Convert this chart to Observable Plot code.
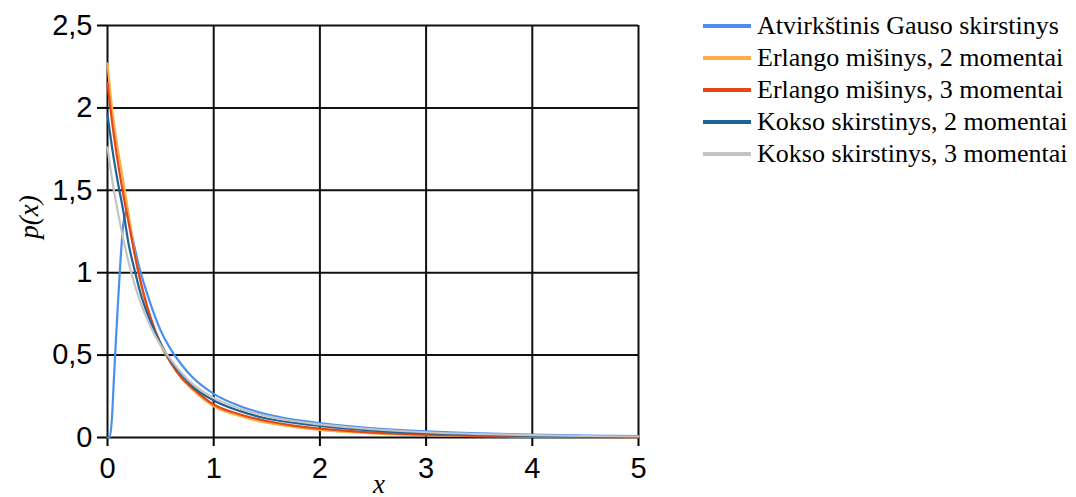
<!DOCTYPE html>
<html>
<head>
<meta charset="utf-8">
<script src="https://cdn.jsdelivr.net/npm/d3@7"></script>
<script src="https://cdn.jsdelivr.net/npm/@observablehq/plot@0.6"></script>
<style>
  html, body { margin: 0; padding: 0; background: #fff; }
  #wrap { position: relative; width: 1076px; height: 497px; overflow: hidden; }
  #chart { position: absolute; left: 0; top: 0; }
  #legend { position: absolute; left: 703px; top: 10px; font-family: "Liberation Serif", "Times New Roman", serif; font-size: 26px; color: #000; }
  .item { display: flex; align-items: center; height: 32px; white-space: nowrap; }
  .swatch { width: 48px; height: 3.5px; margin-right: 6px; }
  .ylab { position: absolute; left: 29px; top: 217px; transform: translate(-50%, -50%) rotate(-90deg); font-family: "Liberation Serif", serif; font-style: italic; font-size: 27px; white-space: nowrap; }
  .xlab { position: absolute; left: 379px; top: 484px; transform: translate(-50%, -50%); font-family: "Liberation Serif", serif; font-style: italic; font-size: 27px; }
</style>
</head>
<body>
<div id="wrap">
  <div id="chart"></div>
  <div id="legend"></div>
  <div class="ylab">p(x)</div>
  <div class="xlab">x</div>
</div>
<script>
// ---- data ----
const seriesNames = [
  "Atvirkštinis Gauso skirstinys",
  "Erlango mišinys, 2 momentai",
  "Erlango mišinys, 3 momentai",
  "Kokso skirstinys, 2 momentai",
  "Kokso skirstinys, 3 momentai"
];
const seriesColors = ["#4a8ff0", "#ffae45", "#e4461a", "#1d6594", "#c4c4c4"];

const xTicks = [0, 1, 2, 3, 4, 5];
const yTicks = [0, 0.5, 1, 1.5, 2, 2.5];

const invGaussX = [0, 0.02, 0.04, 0.06, 0.08, 0.1, 0.12, 0.15, 0.18, 0.2, 0.25, 0.3, 0.35, 0.4, 0.5, 0.6, 0.7, 0.8, 1.0, 1.25, 1.5, 1.75, 2.0, 2.5, 3.0, 3.5, 4.0, 4.5, 5.0];
const invGaussY = [0, 0.0, 0.1, 0.35, 0.6, 0.83, 1.05, 1.3, 1.37, 1.32, 1.17, 1.03, 0.92, 0.82, 0.65, 0.53, 0.44, 0.365, 0.265, 0.19, 0.14, 0.108, 0.087, 0.056, 0.037, 0.025, 0.017, 0.012, 0.008];

const xGrid = [0, 0.05, 0.1, 0.15, 0.2, 0.25, 0.3, 0.4, 0.5, 0.6, 0.7, 0.8, 1.0, 1.25, 1.5, 1.75, 2.0, 2.5, 3.0, 3.5, 4.0, 4.5, 5.0];
const erlang2Y = [2.27, 1.96, 1.74, 1.55, 1.35, 1.14, 0.97, 0.73, 0.56, 0.45, 0.36, 0.29, 0.19, 0.13, 0.09, 0.065, 0.046, 0.025, 0.014, 0.008, 0.005, 0.003, 0.002];
const erlang3Y = [2.15, 1.88, 1.66, 1.47, 1.3, 1.13, 0.98, 0.74, 0.57, 0.45, 0.36, 0.3, 0.2, 0.14, 0.1, 0.072, 0.054, 0.03, 0.017, 0.01, 0.006, 0.004, 0.002];
const cox2Y    = [1.96, 1.73, 1.54, 1.37, 1.17, 1.03, 0.9, 0.71, 0.57, 0.46, 0.38, 0.31, 0.225, 0.16, 0.115, 0.09, 0.07, 0.042, 0.026, 0.016, 0.01, 0.006, 0.004];
const cox3Y    = [1.76, 1.54, 1.36, 1.2, 1.06, 0.94, 0.84, 0.68, 0.56, 0.47, 0.39, 0.325, 0.24, 0.175, 0.13, 0.1, 0.08, 0.05, 0.032, 0.021, 0.014, 0.009, 0.006];

// ---- build table ----
const rows = [];
invGaussX.forEach((x, i) => rows.push({s: seriesNames[0], x, y: invGaussY[i]}));
[erlang2Y, erlang3Y, cox2Y, cox3Y].forEach((ys, k) => {
  xGrid.forEach((x, i) => rows.push({s: seriesNames[k + 1], x, y: ys[i]}));
});

const fmt = d => String(d).replace(".", ",");

const chart = Plot.plot({
  width: 680,
  height: 497,
  marginLeft: 107,
  marginRight: 42,
  marginTop: 25,
  marginBottom: 60,
  style: { fontFamily: "'Liberation Sans', Arial, sans-serif", fontSize: "29px", color: "#000", background: "#fff" },
  x: { domain: [0, 5], label: null },
  y: { domain: [0, 2.5], label: null },
  color: { domain: seriesNames, range: seriesColors },
  marks: [
    Plot.ruleX(xTicks, { stroke: "#111", strokeWidth: 2 }),
    Plot.ruleY(yTicks, { stroke: "#111", strokeWidth: 2 }),
    Plot.axisX({ ticks: xTicks, tickFormat: fmt, tickSize: 9, tickPadding: 11, strokeWidth: 2, fontSize: 29, label: null }),
    Plot.axisY({ ticks: yTicks, tickFormat: fmt, tickSize: 10, tickPadding: 5, strokeWidth: 2, fontSize: 29, label: null }),
    Plot.line(rows, { x: "x", y: "y", z: "s", stroke: "s", strokeWidth: 2.2, curve: "monotone-x" })
  ]
});
document.getElementById("chart").appendChild(chart);

const legend = document.getElementById("legend");
seriesNames.forEach((name, i) => {
  const item = document.createElement("div");
  item.className = "item";
  const sw = document.createElement("div");
  sw.className = "swatch";
  sw.style.background = seriesColors[i];
  const t = document.createElement("span");
  t.textContent = name;
  item.appendChild(sw);
  item.appendChild(t);
  legend.appendChild(item);
});
</script>
</body>
</html>
